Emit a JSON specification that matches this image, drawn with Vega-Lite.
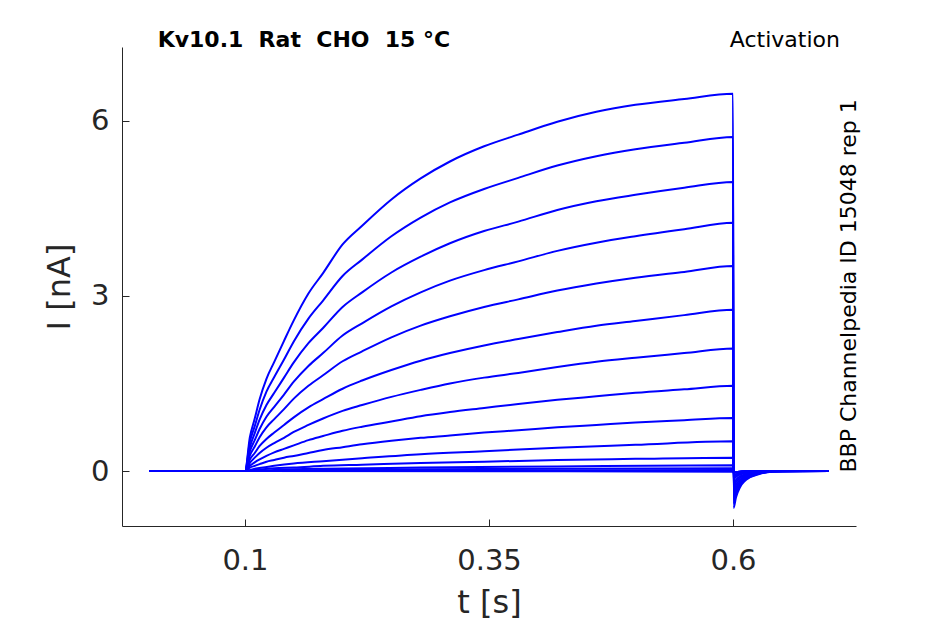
{
  "$schema": "https://vega.github.io/schema/vega-lite/v6.json",
  "autosize": {"type": "none"},
  "width": 734,
  "height": 479,
  "padding": {"left": 122, "top": 47, "right": 89, "bottom": 98},
  "background": "white",
  "config": {
    "view": {"stroke": null},
    "font": "DejaVu Sans",
    "axis": {
      "grid": false,
      "domainColor": "#262626",
      "domainWidth": 1,
      "tickColor": "#262626",
      "tickWidth": 1,
      "tickSize": -7,
      "labelColor": "#262626",
      "labelFont": "DejaVu Sans",
      "labelFontSize": 29,
      "titleColor": "#262626",
      "titleFont": "DejaVu Sans",
      "titleFontSize": 32,
      "titleFontWeight": "normal"
    }
  },
  "data": {
    "values": [
      {"k":1,"t":0.002,"I":0},{"k":1,"t":0.1,"I":0},{"k":1,"t":0.105,"I":0.58},{"k":1,"t":0.11,"I":0.90},{"k":1,"t":0.115,"I":1.23},{"k":1,"t":0.122,"I":1.58},{"k":1,"t":0.13,"I":1.87},{"k":1,"t":0.14,"I":2.23},{"k":1,"t":0.15,"I":2.58},{"k":1,"t":0.165,"I":3.04},{"k":1,"t":0.18,"I":3.39},{"k":1,"t":0.2,"I":3.88},{"k":1,"t":0.22,"I":4.20},{"k":1,"t":0.25,"I":4.65},{"k":1,"t":0.28,"I":5.01},{"k":1,"t":0.31,"I":5.30},{"k":1,"t":0.345,"I":5.56},{"k":1,"t":0.38,"I":5.76},{"k":1,"t":0.42,"I":5.98},{"k":1,"t":0.46,"I":6.15},{"k":1,"t":0.5,"I":6.27},{"k":1,"t":0.55,"I":6.37},{"k":1,"t":0.6,"I":6.46},
      {"k":1,"t":0.6006,"I":-0.63},{"k":1,"t":0.603,"I":-0.45},{"k":1,"t":0.607,"I":-0.28},{"k":1,"t":0.612,"I":-0.17},{"k":1,"t":0.617,"I":-0.11},{"k":1,"t":0.627,"I":-0.05},{"k":1,"t":0.64,"I":-0.01},{"k":1,"t":0.698,"I":0},
      {"k":2,"t":0.002,"I":0},{"k":2,"t":0.1,"I":0},{"k":2,"t":0.105,"I":0.50},{"k":2,"t":0.11,"I":0.77},{"k":2,"t":0.115,"I":1.05},{"k":2,"t":0.122,"I":1.36},{"k":2,"t":0.13,"I":1.61},{"k":2,"t":0.14,"I":1.91},{"k":2,"t":0.15,"I":2.22},{"k":2,"t":0.165,"I":2.61},{"k":2,"t":0.18,"I":2.92},{"k":2,"t":0.2,"I":3.34},{"k":2,"t":0.22,"I":3.62},{"k":2,"t":0.25,"I":4.02},{"k":2,"t":0.28,"I":4.34},{"k":2,"t":0.31,"I":4.60},{"k":2,"t":0.345,"I":4.83},{"k":2,"t":0.38,"I":5.02},{"k":2,"t":0.42,"I":5.23},{"k":2,"t":0.46,"I":5.39},{"k":2,"t":0.5,"I":5.51},{"k":2,"t":0.55,"I":5.62},{"k":2,"t":0.6,"I":5.72},
      {"k":2,"t":0.6006,"I":-0.55},{"k":2,"t":0.603,"I":-0.40},{"k":2,"t":0.607,"I":-0.25},{"k":2,"t":0.612,"I":-0.15},{"k":2,"t":0.617,"I":-0.10},{"k":2,"t":0.627,"I":-0.04},{"k":2,"t":0.64,"I":-0.01},{"k":2,"t":0.698,"I":0},
      {"k":3,"t":0.002,"I":0},{"k":3,"t":0.1,"I":0},{"k":3,"t":0.105,"I":0.41},{"k":3,"t":0.11,"I":0.65},{"k":3,"t":0.115,"I":0.88},{"k":3,"t":0.122,"I":1.13},{"k":3,"t":0.13,"I":1.34},{"k":3,"t":0.14,"I":1.60},{"k":3,"t":0.15,"I":1.86},{"k":3,"t":0.165,"I":2.19},{"k":3,"t":0.18,"I":2.45},{"k":3,"t":0.2,"I":2.81},{"k":3,"t":0.22,"I":3.06},{"k":3,"t":0.25,"I":3.40},{"k":3,"t":0.28,"I":3.67},{"k":3,"t":0.31,"I":3.90},{"k":3,"t":0.345,"I":4.11},{"k":3,"t":0.38,"I":4.27},{"k":3,"t":0.42,"I":4.47},{"k":3,"t":0.46,"I":4.62},{"k":3,"t":0.5,"I":4.73},{"k":3,"t":0.55,"I":4.85},{"k":3,"t":0.6,"I":4.95},
      {"k":3,"t":0.6006,"I":-0.48},{"k":3,"t":0.603,"I":-0.34},{"k":3,"t":0.607,"I":-0.21},{"k":3,"t":0.612,"I":-0.13},{"k":3,"t":0.617,"I":-0.08},{"k":3,"t":0.627,"I":-0.04},{"k":3,"t":0.64,"I":-0.01},{"k":3,"t":0.698,"I":0},
      {"k":4,"t":0.002,"I":0},{"k":4,"t":0.1,"I":0},{"k":4,"t":0.105,"I":0.34},{"k":4,"t":0.11,"I":0.53},{"k":4,"t":0.115,"I":0.72},{"k":4,"t":0.122,"I":0.93},{"k":4,"t":0.13,"I":1.10},{"k":4,"t":0.14,"I":1.31},{"k":4,"t":0.15,"I":1.53},{"k":4,"t":0.165,"I":1.80},{"k":4,"t":0.18,"I":2.02},{"k":4,"t":0.2,"I":2.32},{"k":4,"t":0.22,"I":2.53},{"k":4,"t":0.25,"I":2.82},{"k":4,"t":0.28,"I":3.06},{"k":4,"t":0.31,"I":3.26},{"k":4,"t":0.345,"I":3.44},{"k":4,"t":0.38,"I":3.59},{"k":4,"t":0.42,"I":3.77},{"k":4,"t":0.46,"I":3.91},{"k":4,"t":0.5,"I":4.02},{"k":4,"t":0.55,"I":4.14},{"k":4,"t":0.6,"I":4.25},
      {"k":4,"t":0.6006,"I":-0.41},{"k":4,"t":0.603,"I":-0.29},{"k":4,"t":0.607,"I":-0.18},{"k":4,"t":0.612,"I":-0.11},{"k":4,"t":0.617,"I":-0.07},{"k":4,"t":0.627,"I":-0.03},{"k":4,"t":0.64,"I":0},{"k":4,"t":0.698,"I":0},
      {"k":5,"t":0.002,"I":0},{"k":5,"t":0.1,"I":0},{"k":5,"t":0.105,"I":0.27},{"k":5,"t":0.11,"I":0.42},{"k":5,"t":0.115,"I":0.58},{"k":5,"t":0.122,"I":0.75},{"k":5,"t":0.13,"I":0.89},{"k":5,"t":0.14,"I":1.06},{"k":5,"t":0.15,"I":1.24},{"k":5,"t":0.165,"I":1.46},{"k":5,"t":0.18,"I":1.64},{"k":5,"t":0.2,"I":1.88},{"k":5,"t":0.22,"I":2.05},{"k":5,"t":0.25,"I":2.29},{"k":5,"t":0.28,"I":2.49},{"k":5,"t":0.31,"I":2.65},{"k":5,"t":0.345,"I":2.81},{"k":5,"t":0.38,"I":2.94},{"k":5,"t":0.42,"I":3.09},{"k":5,"t":0.46,"I":3.21},{"k":5,"t":0.5,"I":3.31},{"k":5,"t":0.55,"I":3.41},{"k":5,"t":0.6,"I":3.51},
      {"k":5,"t":0.6006,"I":-0.34},{"k":5,"t":0.603,"I":-0.24},{"k":5,"t":0.607,"I":-0.15},{"k":5,"t":0.612,"I":-0.09},{"k":5,"t":0.617,"I":-0.06},{"k":5,"t":0.627,"I":-0.03},{"k":5,"t":0.64,"I":0},{"k":5,"t":0.698,"I":0},
      {"k":6,"t":0.002,"I":0},{"k":6,"t":0.1,"I":0},{"k":6,"t":0.105,"I":0.20},{"k":6,"t":0.11,"I":0.31},{"k":6,"t":0.115,"I":0.43},{"k":6,"t":0.122,"I":0.55},{"k":6,"t":0.13,"I":0.66},{"k":6,"t":0.14,"I":0.79},{"k":6,"t":0.15,"I":0.92},{"k":6,"t":0.165,"I":1.09},{"k":6,"t":0.18,"I":1.23},{"k":6,"t":0.2,"I":1.41},{"k":6,"t":0.22,"I":1.55},{"k":6,"t":0.25,"I":1.73},{"k":6,"t":0.28,"I":1.89},{"k":6,"t":0.31,"I":2.02},{"k":6,"t":0.345,"I":2.15},{"k":6,"t":0.38,"I":2.26},{"k":6,"t":0.42,"I":2.38},{"k":6,"t":0.46,"I":2.49},{"k":6,"t":0.5,"I":2.57},{"k":6,"t":0.55,"I":2.67},{"k":6,"t":0.6,"I":2.76},
      {"k":6,"t":0.6006,"I":-0.27},{"k":6,"t":0.603,"I":-0.19},{"k":6,"t":0.607,"I":-0.12},{"k":6,"t":0.612,"I":-0.07},{"k":6,"t":0.617,"I":-0.05},{"k":6,"t":0.627,"I":-0.02},{"k":6,"t":0.64,"I":0},{"k":6,"t":0.698,"I":0},
      {"k":7,"t":0.002,"I":0},{"k":7,"t":0.1,"I":0},{"k":7,"t":0.105,"I":0.14},{"k":7,"t":0.11,"I":0.23},{"k":7,"t":0.115,"I":0.31},{"k":7,"t":0.122,"I":0.40},{"k":7,"t":0.13,"I":0.48},{"k":7,"t":0.14,"I":0.57},{"k":7,"t":0.15,"I":0.67},{"k":7,"t":0.165,"I":0.79},{"k":7,"t":0.18,"I":0.90},{"k":7,"t":0.2,"I":1.03},{"k":7,"t":0.22,"I":1.13},{"k":7,"t":0.25,"I":1.27},{"k":7,"t":0.28,"I":1.39},{"k":7,"t":0.31,"I":1.50},{"k":7,"t":0.345,"I":1.60},{"k":7,"t":0.38,"I":1.68},{"k":7,"t":0.42,"I":1.78},{"k":7,"t":0.46,"I":1.87},{"k":7,"t":0.5,"I":1.94},{"k":7,"t":0.55,"I":2.02},{"k":7,"t":0.6,"I":2.10},
      {"k":7,"t":0.6006,"I":-0.21},{"k":7,"t":0.603,"I":-0.15},{"k":7,"t":0.607,"I":-0.09},{"k":7,"t":0.612,"I":-0.06},{"k":7,"t":0.617,"I":-0.04},{"k":7,"t":0.627,"I":-0.02},{"k":7,"t":0.64,"I":0},{"k":7,"t":0.698,"I":0},
      {"k":8,"t":0.002,"I":0},{"k":8,"t":0.1,"I":0},{"k":8,"t":0.105,"I":0.09},{"k":8,"t":0.11,"I":0.15},{"k":8,"t":0.115,"I":0.20},{"k":8,"t":0.122,"I":0.26},{"k":8,"t":0.13,"I":0.32},{"k":8,"t":0.14,"I":0.38},{"k":8,"t":0.15,"I":0.44},{"k":8,"t":0.165,"I":0.53},{"k":8,"t":0.18,"I":0.60},{"k":8,"t":0.2,"I":0.69},{"k":8,"t":0.22,"I":0.76},{"k":8,"t":0.25,"I":0.85},{"k":8,"t":0.28,"I":0.94},{"k":8,"t":0.31,"I":1.01},{"k":8,"t":0.345,"I":1.08},{"k":8,"t":0.38,"I":1.15},{"k":8,"t":0.42,"I":1.22},{"k":8,"t":0.46,"I":1.28},{"k":8,"t":0.5,"I":1.34},{"k":8,"t":0.55,"I":1.40},{"k":8,"t":0.6,"I":1.46},
      {"k":8,"t":0.6006,"I":-0.14},{"k":8,"t":0.603,"I":-0.10},{"k":8,"t":0.607,"I":-0.06},{"k":8,"t":0.612,"I":-0.04},{"k":8,"t":0.617,"I":-0.03},{"k":8,"t":0.627,"I":-0.01},{"k":8,"t":0.64,"I":0},{"k":8,"t":0.698,"I":0},
      {"k":9,"t":0.002,"I":0},{"k":9,"t":0.1,"I":0},{"k":9,"t":0.105,"I":0.06},{"k":9,"t":0.11,"I":0.09},{"k":9,"t":0.115,"I":0.12},{"k":9,"t":0.122,"I":0.16},{"k":9,"t":0.13,"I":0.19},{"k":9,"t":0.14,"I":0.23},{"k":9,"t":0.15,"I":0.26},{"k":9,"t":0.165,"I":0.31},{"k":9,"t":0.18,"I":0.36},{"k":9,"t":0.2,"I":0.41},{"k":9,"t":0.22,"I":0.46},{"k":9,"t":0.25,"I":0.52},{"k":9,"t":0.28,"I":0.57},{"k":9,"t":0.31,"I":0.61},{"k":9,"t":0.345,"I":0.66},{"k":9,"t":0.38,"I":0.70},{"k":9,"t":0.42,"I":0.75},{"k":9,"t":0.46,"I":0.79},{"k":9,"t":0.5,"I":0.83},{"k":9,"t":0.55,"I":0.87},{"k":9,"t":0.6,"I":0.91},
      {"k":9,"t":0.6006,"I":-0.09},{"k":9,"t":0.607,"I":-0.04},{"k":9,"t":0.617,"I":-0.02},{"k":9,"t":0.635,"I":0},{"k":9,"t":0.698,"I":0},
      {"k":10,"t":0.002,"I":0},{"k":10,"t":0.1,"I":0},{"k":10,"t":0.11,"I":0.04},{"k":10,"t":0.13,"I":0.09},{"k":10,"t":0.15,"I":0.13},{"k":10,"t":0.18,"I":0.17},{"k":10,"t":0.22,"I":0.22},{"k":10,"t":0.28,"I":0.29},{"k":10,"t":0.345,"I":0.34},{"k":10,"t":0.42,"I":0.40},{"k":10,"t":0.5,"I":0.45},{"k":10,"t":0.6,"I":0.51},
      {"k":10,"t":0.6006,"I":-0.06},{"k":10,"t":0.607,"I":-0.03},{"k":10,"t":0.617,"I":-0.01},{"k":10,"t":0.635,"I":0},{"k":10,"t":0.698,"I":0},
      {"k":11,"t":0.002,"I":0},{"k":11,"t":0.1,"I":0},{"k":11,"t":0.11,"I":0.02},{"k":11,"t":0.13,"I":0.05},{"k":11,"t":0.15,"I":0.06},{"k":11,"t":0.18,"I":0.09},{"k":11,"t":0.22,"I":0.11},{"k":11,"t":0.28,"I":0.14},{"k":11,"t":0.345,"I":0.16},{"k":11,"t":0.42,"I":0.19},{"k":11,"t":0.5,"I":0.21},{"k":11,"t":0.6,"I":0.23},
      {"k":11,"t":0.6006,"I":-0.03},{"k":11,"t":0.607,"I":-0.015},{"k":11,"t":0.617,"I":-0.005},{"k":11,"t":0.635,"I":0},{"k":11,"t":0.698,"I":0},
      {"k":12,"t":0.002,"I":0},{"k":12,"t":0.1,"I":0},{"k":12,"t":0.13,"I":0.02},{"k":12,"t":0.18,"I":0.04},{"k":12,"t":0.28,"I":0.06},{"k":12,"t":0.42,"I":0.08},{"k":12,"t":0.6,"I":0.10},
      {"k":12,"t":0.6006,"I":-0.02},{"k":12,"t":0.607,"I":-0.01},{"k":12,"t":0.617,"I":0},{"k":12,"t":0.698,"I":0},
      {"k":13,"t":0.002,"I":0},{"k":13,"t":0.1,"I":0},{"k":13,"t":0.18,"I":0.02},{"k":13,"t":0.345,"I":0.035},{"k":13,"t":0.6,"I":0.05},
      {"k":13,"t":0.6006,"I":-0.02},{"k":13,"t":0.607,"I":-0.01},{"k":13,"t":0.617,"I":0},{"k":13,"t":0.698,"I":0},
      {"k":14,"t":0.002,"I":0},{"k":14,"t":0.1,"I":0},{"k":14,"t":0.6,"I":0.02},
      {"k":14,"t":0.6006,"I":-0.02},{"k":14,"t":0.607,"I":-0.01},{"k":14,"t":0.617,"I":0},{"k":14,"t":0.698,"I":0},
      {"k":15,"t":0.002,"I":0},{"k":15,"t":0.1,"I":0},{"k":15,"t":0.6,"I":-0.01},
      {"k":15,"t":0.6006,"I":-0.02},{"k":15,"t":0.607,"I":-0.01},{"k":15,"t":0.617,"I":0},{"k":15,"t":0.698,"I":0}
    ]
  },
  "layer": [
    {
      "mark": {"type": "line", "color": "#0000ff", "strokeWidth": 2, "interpolate": "monotone", "clip": false},
      "encoding": {
        "x": {
          "field": "t",
          "type": "quantitative",
          "title": "t [s]",
          "scale": {"domain": [-0.026, 0.726], "nice": false, "zero": false},
          "axis": {"values": [0.1, 0.35, 0.6], "format": "~g", "labelPadding": 27, "titlePadding": 12, "labelFlush": false}
        },
        "y": {
          "field": "I",
          "type": "quantitative",
          "title": "I [nA]",
          "scale": {"domain": [-0.94, 7.26], "nice": false, "zero": false},
          "axis": {"values": [0, 3, 6], "format": "d", "labelPadding": 20, "titlePadding": 14, "labelFlush": false}
        },
        "detail": {"field": "k", "type": "nominal"}
      }
    },
    {
      "data": {"values": [{}]},
      "mark": {"type": "text", "text": "Kv10.1\u00a0 Rat\u00a0 CHO\u00a0 15 °C", "font": "DejaVu Sans", "fontSize": 22, "fontWeight": "bold", "color": "#000000", "align": "left", "baseline": "alphabetic"},
      "encoding": {
        "x": {"datum": 0.0105, "type": "quantitative"},
        "y": {"datum": 7.266, "type": "quantitative"}
      }
    },
    {
      "data": {"values": [{}]},
      "mark": {"type": "text", "text": "Activation", "font": "DejaVu Sans", "fontSize": 22, "color": "#000000", "align": "right", "baseline": "alphabetic"},
      "encoding": {
        "x": {"datum": 0.7096, "type": "quantitative"},
        "y": {"datum": 7.266, "type": "quantitative"}
      }
    },
    {
      "data": {"values": [{}]},
      "mark": {"type": "text", "text": "BBP Channelpedia ID 15048 rep 1", "font": "DejaVu Sans", "fontSize": 22, "color": "#000000", "align": "center", "baseline": "alphabetic", "angle": 270},
      "encoding": {
        "x": {"datum": 0.7261, "type": "quantitative"},
        "y": {"datum": 3.17, "type": "quantitative"}
      }
    }
  ]
}
